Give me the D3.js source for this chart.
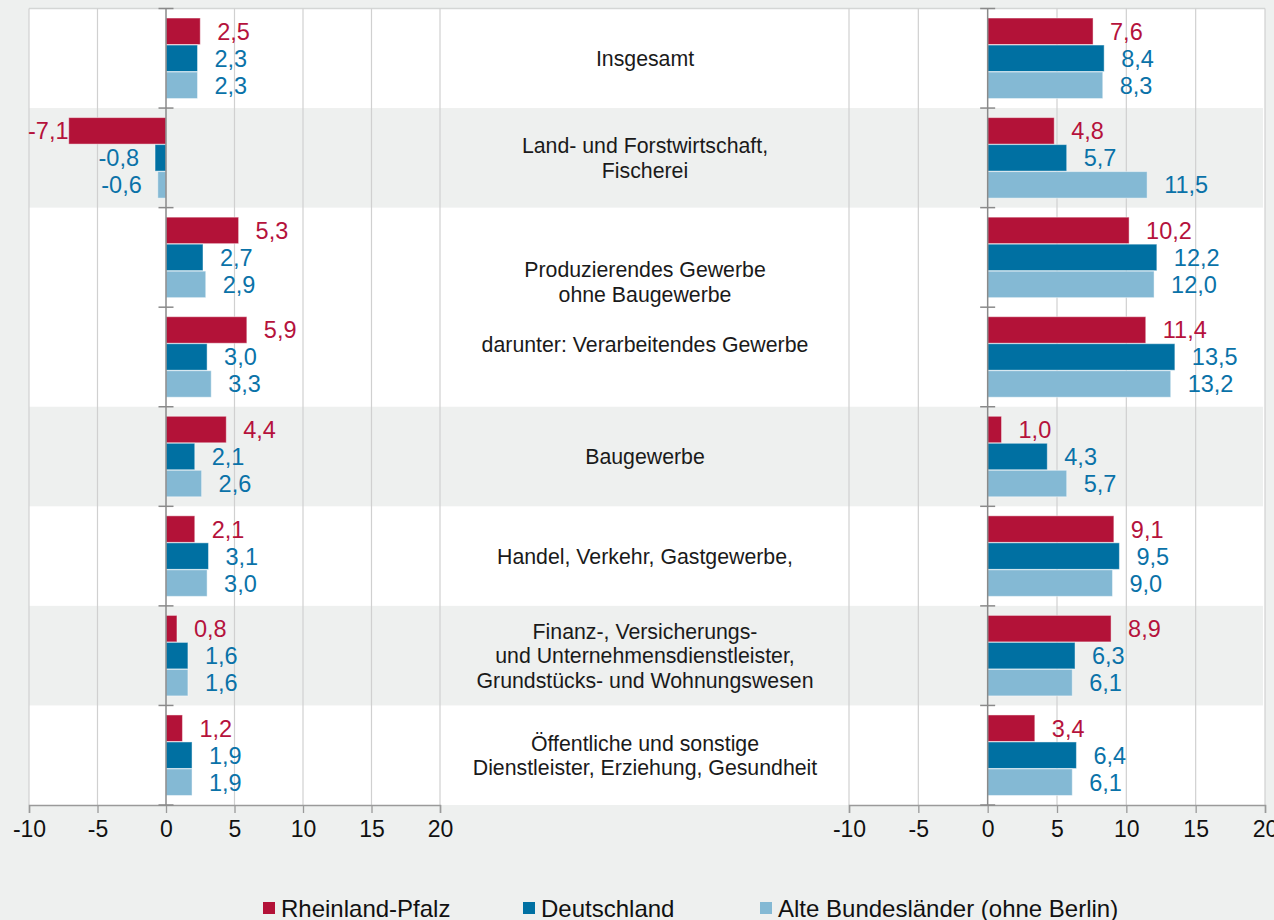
<!DOCTYPE html>
<html><head><meta charset="utf-8">
<script src="https://cdn.jsdelivr.net/npm/d3@7"></script>
<style>
html,body{margin:0;padding:0;background:#eef0ef;}
svg{display:block;font-family:"Liberation Sans",Arial,sans-serif;}
</style></head>
<body><svg id="c" width="1274" height="920"></svg>
<script>
const categories = [
  ["Insgesamt"],
  ["Land- und Forstwirtschaft,", "Fischerei"],
  ["", "", "Produzierendes Gewerbe", "ohne Baugewerbe"],
  ["darunter: Verarbeitendes Gewerbe", ""],
  ["Baugewerbe"],
  ["Handel, Verkehr, Gastgewerbe,"],
  ["Finanz-, Versicherungs-", "und Unternehmensdienstleister,", "Grundstücks- und Wohnungswesen"],
  ["Öffentliche und sonstige", "Dienstleister, Erziehung, Gesundheit"]
];
const seriesNames = ["Rheinland-Pfalz", "Deutschland", "Alte Bundesländer (ohne Berlin)"];
const leftRP   = [2.5, -7.1, 5.3, 5.9, 4.4, 2.1, 0.8, 1.2];
const leftDE   = [2.3, -0.8, 2.7, 3.0, 2.1, 3.1, 1.6, 1.9];
const leftABL  = [2.3, -0.6, 2.9, 3.3, 2.6, 3.0, 1.6, 1.9];
const rightRP  = [7.6, 4.8, 10.2, 11.4, 1.0, 9.1, 8.9, 3.4];
const rightDE  = [8.4, 5.7, 12.2, 13.5, 4.3, 9.5, 6.3, 6.4];
const rightABL = [8.3, 11.5, 12.0, 13.2, 5.7, 9.0, 6.1, 6.1];
const tickValues = [-10, -5, 0, 5, 10, 15, 20];
const bandShaded = [false, true, false, false, true, false, true, false];

const barColors = ["#b31238", "#0070a2", "#84b9d4"];
const labelColors = ["#b5123c", "#0a72a8", "#0a72a8"];

const svg = d3.select("#c");
const plotTop = 8.5, plotBottom = 805;
const plotL = 29, plotR = 1265;
const y = d3.scaleBand().domain(d3.range(categories.length)).range([plotTop, plotBottom]).padding(0);
const xL = d3.scaleLinear().domain([-10, 20]).range([29, 440]);
const xR = d3.scaleLinear().domain([-10, 20]).range([849, 1265]);

svg.append("rect").attr("x", plotL).attr("y", plotTop).attr("width", plotR - plotL).attr("height", plotBottom - plotTop).attr("fill", "#ffffff");
svg.append("g").selectAll("rect").data(d3.range(categories.length).filter(i => bandShaded[i]))
  .join("rect").attr("x", plotL).attr("width", plotR - plotL - 2)
  .attr("y", i => y(i)).attr("height", y.bandwidth()).attr("fill", "#eef0ef");
svg.append("line").attr("x1", plotL).attr("x2", plotR).attr("y1", plotTop).attr("y2", plotTop).attr("stroke", "#d4d6d5").attr("stroke-width", 1.5);

function panel(x, rp, de, abl) {
  const g = svg.append("g");
  g.selectAll("line.grid").data(tickValues.filter(v => v !== 0)).join("line")
    .attr("class", "grid")
    .attr("x1", d => x(d)).attr("x2", d => x(d)).attr("y1", plotTop).attr("y2", plotBottom)
    .attr("stroke", "#d0d0d0").attr("stroke-width", 1.2);
  const ax = g.append("g").attr("transform", `translate(0,${plotBottom})`)
    .call(d3.axisBottom(x).tickValues(tickValues).tickSize(8).tickPadding(8).tickFormat(d => d));
  ax.select(".domain").attr("stroke", "#9a9a9a").attr("stroke-width", 1.5);
  ax.selectAll(".tick line").attr("stroke", "#9a9a9a").attr("stroke-width", 1.3);
  ax.selectAll(".tick text").attr("font-size", 23).attr("fill", "#111").attr("font-family", "Liberation Sans, Arial, sans-serif");

  const series = [rp, de, abl];
  const barH = 26.5, gap = 0.5;
  const groupH = 3 * barH + 2 * gap;
  series.forEach((vals, s) => {
    const bars = g.append("g");
    bars.selectAll("rect").data(vals).join("rect")
      .attr("x", d => x(Math.min(0, d)))
      .attr("width", d => Math.abs(x(d) - x(0)))
      .attr("y", (d, i) => y(i) + (y.bandwidth() - groupH) / 2 + s * (barH + gap))
      .attr("height", barH)
      .attr("fill", barColors[s])
      .attr("stroke", "rgba(255,255,255,0.45)").attr("stroke-width", 1);
    const lab = g.append("g").selectAll("text").data(vals).join("text")
      .attr("y", (d, i) => y(i) + (y.bandwidth() - groupH) / 2 + s * (barH + gap) + barH / 2)
      .attr("dy", "0.36em")
      .attr("font-size", 23.5)
      .attr("fill", labelColors[s])
      .text(d => d3.format(".1f")(d).replace(".", ",").replace("−", "-"));
    lab.each(function(d) {
      const t = d3.select(this);
      if (d >= 0) {
        t.attr("text-anchor", "start").attr("x", x(d) + 17);
      } else {
        const w = this.getComputedTextLength();
        let end = x(d) - 16;
        if (end - w < x.range()[0] - 1) end = x.range()[0] - 1 + w;
        t.attr("text-anchor", "end").attr("x", end);
      }
    });
  });
  g.append("line").attr("x1", x(0)).attr("x2", x(0)).attr("y1", plotTop).attr("y2", plotBottom)
    .attr("stroke", "#8a8a8a").attr("stroke-width", 1.5);
  g.selectAll("line.ct").data(d3.range(categories.length + 1)).join("line")
    .attr("class", "ct")
    .attr("x1", x(0) - 7.5).attr("x2", x(0) + 7.5)
    .attr("y1", i => i < categories.length ? y(i) : plotBottom)
    .attr("y2", i => i < categories.length ? y(i) : plotBottom)
    .attr("stroke", "#8a8a8a").attr("stroke-width", 1.5);
}
panel(xL, leftRP, leftDE, leftABL);
panel(xR, rightRP, rightDE, rightABL);

const lh = 24.5;
const cg = svg.append("g");
categories.forEach((lines, i) => {
  const c = y(i) + y.bandwidth() / 2;
  const t = cg.append("text").attr("text-anchor", "middle").attr("font-size", 21.3).attr("fill", "#1a1a1a");
  lines.forEach((ln, k) => {
    t.append("tspan").attr("x", 645)
      .attr("y", c + (k - (lines.length - 1) / 2) * lh)
      .attr("dy", "0.36em").text(ln);
  });
});

const legendX = [263, 523, 760];
const lg = svg.append("g");
seriesNames.forEach((n, s) => {
  lg.append("rect").attr("x", legendX[s]).attr("y", 902).attr("width", 12).attr("height", 12).attr("fill", barColors[s]);
  lg.append("text").attr("x", legendX[s] + 18).attr("y", 908).attr("dy", "0.36em")
    .attr("font-size", 24).attr("fill", "#111").text(n);
});
</script></body></html>
